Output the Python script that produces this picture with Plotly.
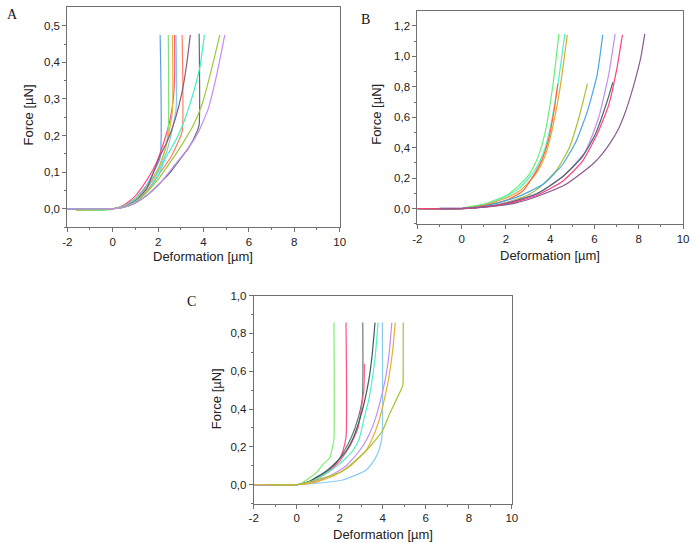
import plotly.graph_objects as go

# ---------------- Panel A data (Deformation [µm], Force [µN]) ----------------
a_blue_x = [-2, 0, 0.5, 1.0, 1.5, 1.8, 2.09, 2.09]
a_blue_y = [0, 0, 0.008, 0.028, 0.064, 0.1, 0.14, 0.475]
a_pink_x = [-2, 0, 0.5, 1.0, 1.5, 1.9, 2.27, 2.51, 2.66, 2.73, 2.73]
a_pink_y = [0, 0, 0.01, 0.035, 0.078, 0.122, 0.185, 0.239, 0.293, 0.365, 0.475]
a_green_x = [-1.6, -0.3, 0, 0.5, 1.0, 1.5, 2.0, 2.3, 2.45, 2.45]
a_green_y = [-0.004, -0.004, 0, 0.007, 0.027, 0.06, 0.11, 0.16, 0.22, 0.475]
a_gold_x = [-1.6, 0, 0.5, 1.0, 1.5, 2.0, 2.35, 2.63, 2.63]
a_gold_y = [-0.003, 0, 0.006, 0.024, 0.058, 0.105, 0.17, 0.266, 0.475]
a_sky_x = [-2, 0, 0.5, 1.0, 1.5, 2.0, 2.4, 2.79, 2.79]
a_sky_y = [0, 0, 0.006, 0.024, 0.056, 0.1, 0.16, 0.27, 0.475]
a_salmon_x = [-2, 0, 0.5, 1.0, 1.5, 2.05, 2.55, 2.84, 3.06, 3.06]
a_salmon_y = [0, 0, 0.005, 0.02, 0.048, 0.095, 0.14, 0.176, 0.21, 0.475]
a_mauve_x = [-2, 0, 0.5, 1.0, 1.5, 2.05, 2.41, 2.77, 3.06, 3.25, 3.42]
a_mauve_y = [0, 0, 0.005, 0.022, 0.055, 0.14, 0.185, 0.248, 0.32, 0.39, 0.475]
a_gray_x = [-2, 0, 0.5, 1.0, 1.5, 2.05, 2.48, 2.92, 3.35, 3.71, 3.81, 3.81]
a_gray_y = [0, 0, 0.004, 0.016, 0.036, 0.068, 0.095, 0.131, 0.167, 0.21, 0.23, 0.478]
a_aqua_x = [-2, 0, 0.5, 1.0, 1.5, 2.0, 2.34, 2.84, 3.2, 3.57, 3.85, 4.04]
a_aqua_y = [0, 0, 0.005, 0.02, 0.045, 0.09, 0.14, 0.194, 0.248, 0.32, 0.39, 0.475]
a_ygreen_x = [-1.6, 0, 0.5, 1.0, 1.5, 2.0, 2.48, 3.06, 3.57, 3.93, 4.29, 4.72]
a_ygreen_y = [-0.004, 0, 0.004, 0.018, 0.045, 0.08, 0.122, 0.176, 0.23, 0.284, 0.365, 0.475]
a_violet_x = [-2, 0, 0.5, 1.0, 1.5, 2.0, 2.77, 3.35, 3.78, 4.22, 4.58, 4.94]
a_violet_y = [0, 0, 0.004, 0.016, 0.036, 0.063, 0.122, 0.167, 0.21, 0.275, 0.365, 0.475]

# ---------------- Panel B data ----------------
b_green_x = [-2, 0, 0.27, 1.0, 1.45, 2.0, 2.49, 3.0, 3.23, 3.5, 3.75, 4.12, 4.39]
b_green_y = [0, 0, 0.011, 0.03, 0.054, 0.085, 0.14, 0.215, 0.27, 0.36, 0.487, 0.81, 1.147]
b_aqua_x = [-2, 0, 1.0, 2.0, 2.64, 3.0, 3.38, 3.7, 3.97, 4.34, 4.66]
b_aqua_y = [0, 0, 0.025, 0.08, 0.14, 0.195, 0.27, 0.37, 0.51, 0.81, 1.147]
b_gold_x = [-2, 0, 1.0, 2.0, 2.64, 3.0, 3.45, 3.75, 4.04, 4.44, 4.77]
b_gold_y = [0, 0, 0.022, 0.07, 0.12, 0.17, 0.25, 0.34, 0.49, 0.79, 1.14]
b_tomato_x = [-2, 0, 1.0, 1.75, 2.3, 2.79, 3.38, 3.65, 3.9, 4.19, 4.34]
b_tomato_y = [0, 0, 0.02, 0.043, 0.075, 0.12, 0.25, 0.33, 0.44, 0.66, 0.82]
b_ygreen_x = [-2, 0, 1.0, 2.0, 3.0, 3.52, 4.27, 4.86, 5.3, 5.68]
b_ygreen_y = [0, 0, 0.012, 0.04, 0.09, 0.14, 0.25, 0.4, 0.6, 0.82]
b_blue_x = [-2, 0, 1.0, 2.49, 3.68, 4.56, 5.16, 5.68, 6.12, 6.37]
b_blue_y = [0, 0, 0.015, 0.076, 0.16, 0.29, 0.44, 0.64, 0.88, 1.14]
b_violet_x = [-1, 0, 1.0, 2.0, 3.0, 3.68, 4.71, 5.6, 6.19, 6.64, 6.93]
b_violet_y = [0.003, 0.003, 0.012, 0.038, 0.08, 0.12, 0.23, 0.38, 0.6, 0.88, 1.147]
b_slate_x = [-2, 0, 1.0, 2.0, 3.38, 4.56, 5.45, 6.04, 6.56, 6.83]
b_slate_y = [0, 0, 0.012, 0.035, 0.097, 0.21, 0.34, 0.49, 0.70, 0.83]
b_pink_x = [-2, 0, 1.0, 2.0, 3.38, 4.56, 5.45, 6.12, 6.64, 7.01, 7.26]
b_pink_y = [0, 0, 0.01, 0.03, 0.087, 0.18, 0.31, 0.49, 0.68, 0.92, 1.14]
b_purple_x = [-1, 0, 1.0, 1.75, 2.5, 3.52, 4.71, 5.9, 6.35, 6.79, 7.1, 7.38, 7.65, 7.9, 8.1, 8.27]
b_purple_y = [0.003, 0.003, 0.01, 0.021, 0.04, 0.087, 0.16, 0.29, 0.36, 0.45, 0.53, 0.63, 0.75, 0.88, 1.0, 1.147]

# ---------------- Panel C data ----------------
c_green_x = [-2, 0, 0.16, 0.62, 0.93, 1.22, 1.54, 1.68, 1.73, 1.73]
c_green_y = [0, 0, 0.004, 0.038, 0.065, 0.108, 0.143, 0.21, 0.24, 0.857]
c_pink_x = [-2, 0, 0.5, 0.92, 1.3, 1.68, 2.0, 2.14, 2.29, 2.29]
c_pink_y = [0, 0, 0.012, 0.03, 0.055, 0.09, 0.14, 0.177, 0.25, 0.857]
c_gray_x = [-2, 0, 0.5, 1.0, 1.5, 2.0, 2.5, 2.85, 3.05, 3.07]
c_gray_y = [0, 0, 0.012, 0.04, 0.08, 0.14, 0.24, 0.35, 0.46, 0.857]
c_pink2_x = [-2, 0, 0.5, 1.0, 1.5, 2.0, 2.5, 2.85, 3.0, 3.12, 3.15]
c_pink2_y = [0, 0, 0.01, 0.035, 0.07, 0.125, 0.21, 0.3, 0.4, 0.5, 0.64]
c_slate_x = [-2, 0, 0.62, 1.38, 1.8, 2.29, 2.6, 2.9, 3.15, 3.36, 3.5, 3.64]
c_slate_y = [0, 0, 0.02, 0.073, 0.115, 0.177, 0.24, 0.334, 0.44, 0.56, 0.68, 0.857]
c_aqua_x = [-2, 0, 0.7, 1.5, 2.0, 2.59, 2.9, 3.13, 3.35, 3.51, 3.65, 3.78]
c_aqua_y = [0, 0, 0.018, 0.07, 0.11, 0.177, 0.24, 0.351, 0.45, 0.56, 0.68, 0.857]
c_sky_x = [-2, 0, 0.93, 2.14, 3.2, 3.6, 3.81, 3.93, 3.98, 3.98]
c_sky_y = [0, 0, 0.008, 0.025, 0.075, 0.13, 0.177, 0.23, 0.28, 0.857]
c_violet_x = [-2, 0, 0.8, 1.6, 2.3, 2.9, 3.3, 3.66, 3.9, 4.12, 4.3, 4.42]
c_violet_y = [0, 0, 0.015, 0.05, 0.1, 0.177, 0.25, 0.351, 0.45, 0.56, 0.7, 0.857]
c_gold_x = [-2, 0, 0.8, 1.68, 2.5, 3.2, 3.5, 3.81, 4.05, 4.27, 4.45, 4.58]
c_gold_y = [0, 0, 0.012, 0.045, 0.1, 0.177, 0.24, 0.334, 0.44, 0.56, 0.7, 0.857]
c_ygreen_x = [-1.3, 0, 1.07, 2.14, 3.2, 3.96, 4.3, 4.73, 4.93, 4.95, 4.95]
c_ygreen_y = [0, 0, 0.03, 0.073, 0.177, 0.28, 0.37, 0.473, 0.525, 0.6, 0.857]

# ---------------- Tick labels ----------------
x_ticks = [-2, 0, 2, 4, 6, 8, 10]
x_tick_labels = ["-2", "0", "2", "4", "6", "8", "10"]
x_minor = [-1, 1, 3, 5, 7, 9]
a_y_ticks = [0.0, 0.1, 0.2, 0.3, 0.4, 0.5]
a_y_tick_labels = ["0,0", "0,1", "0,2", "0,3", "0,4", "0,5"]
a_y_minor = [-0.05, 0.05, 0.15, 0.25, 0.35, 0.45]
b_y_ticks = [0.0, 0.2, 0.4, 0.6, 0.8, 1.0, 1.2]
b_y_tick_labels = ["0,0", "0,2", "0,4", "0,6", "0,8", "1,0", "1,2"]
b_y_minor = [-0.1, 0.1, 0.3, 0.5, 0.7, 0.9, 1.1]
c_y_ticks = [0.0, 0.2, 0.4, 0.6, 0.8, 1.0]
c_y_tick_labels = ["0,0", "0,2", "0,4", "0,6", "0,8", "1,0"]
c_y_minor = [-0.1, 0.1, 0.3, 0.5, 0.7, 0.9]

panel_a = [
    (a_blue_x, a_blue_y, "#5b9fe0"), (a_pink_x, a_pink_y, "#ff4f8b"),
    (a_green_x, a_green_y, "#7ee07e"), (a_gold_x, a_gold_y, "#e6b428"),
    (a_sky_x, a_sky_y, "#80c8f0"), (a_salmon_x, a_salmon_y, "#ff7f5f"),
    (a_mauve_x, a_mauve_y, "#8c5a7a"), (a_gray_x, a_gray_y, "#5c6e6e"),
    (a_aqua_x, a_aqua_y, "#40f0c0"), (a_ygreen_x, a_ygreen_y, "#9dc83a"),
    (a_violet_x, a_violet_y, "#c58cf0"),
]
panel_b = [
    (b_green_x, b_green_y, "#66ee77"), (b_aqua_x, b_aqua_y, "#50f0c8"),
    (b_gold_x, b_gold_y, "#e8a830"), (b_tomato_x, b_tomato_y, "#ff6040"),
    (b_ygreen_x, b_ygreen_y, "#a8c030"), (b_blue_x, b_blue_y, "#4aa8e0"),
    (b_violet_x, b_violet_y, "#c090f0"), (b_slate_x, b_slate_y, "#4a6a6a"),
    (b_pink_x, b_pink_y, "#ff4080"), (b_purple_x, b_purple_y, "#8a5a90"),
]
panel_c = [
    (c_green_x, c_green_y, "#80ee70"), (c_pink_x, c_pink_y, "#ff5080"),
    (c_gray_x, c_gray_y, "#6a7a7a"), (c_pink2_x, c_pink2_y, "#ff6090"),
    (c_slate_x, c_slate_y, "#3f5f5f"), (c_aqua_x, c_aqua_y, "#50f0c8"),
    (c_sky_x, c_sky_y, "#88ccf0"), (c_violet_x, c_violet_y, "#c090f0"),
    (c_gold_x, c_gold_y, "#e8b030"), (c_ygreen_x, c_ygreen_y, "#a8c030"),
]

W, H = 696, 543
fig = go.Figure()

for idx, panel in enumerate([panel_a, panel_b, panel_c]):
    ax = "" if idx == 0 else str(idx + 1)
    for xs, ys, col in panel:
        fig.add_trace(go.Scatter(x=xs, y=ys, mode="lines", xaxis="x" + ax, yaxis="y" + ax,
                                 line=dict(color=col, width=1.2, shape="spline", smoothing=0.5),
                                 showlegend=False, hoverinfo="skip"))

AXCOL = "#707070"
TICKFONT = dict(family="Liberation Sans, Arial", size=11.5, color="#222222")


def xaxis(domain, anchor):
    return dict(domain=domain, anchor=anchor, range=[-2, 10], showline=True, linecolor=AXCOL,
                linewidth=1, mirror=True, ticks="outside", ticklen=4, tickcolor=AXCOL,
                tickmode="array", tickvals=x_ticks, ticktext=x_tick_labels, tickfont=TICKFONT,
                showgrid=False, zeroline=False,
                minor=dict(tickmode="array", tickvals=x_minor, ticks="outside", ticklen=2,
                           tickcolor=AXCOL, showgrid=False))


def yaxis(domain, anchor, rng, tv, tt, mv):
    return dict(domain=domain, anchor=anchor, range=rng, showline=True, linecolor=AXCOL,
                linewidth=1, mirror=True, ticks="outside", ticklen=4, tickcolor=AXCOL,
                tickmode="array", tickvals=tv, ticktext=tt, tickfont=TICKFONT,
                showgrid=False, zeroline=False,
                minor=dict(tickmode="array", tickvals=mv, ticks="outside", ticklen=2,
                           tickcolor=AXCOL, showgrid=False))


def px_x(p):
    return p / W


def px_y(p):
    return 1 - p / H


fig.update_layout(
    width=W, height=H, margin=dict(l=0, r=0, t=0, b=0),
    paper_bgcolor="white", plot_bgcolor="white",
    xaxis=xaxis([px_x(63.3), px_x(340)], "y"),
    yaxis=yaxis([px_y(223.5), px_y(1.5)], "x", [-0.05, 0.55], a_y_ticks, a_y_tick_labels, a_y_minor),
    xaxis2=xaxis([px_x(419), px_x(689)], "y2"),
    yaxis2=yaxis([px_y(220.4), px_y(4.6)], "x2", [-0.1, 1.3], b_y_ticks, b_y_tick_labels, b_y_minor),
    xaxis3=xaxis([px_x(252.7), px_x(515)], "y3"),
    yaxis3=yaxis([px_y(503.2), px_y(292.8)], "x3", [-0.1, 1.0], c_y_ticks, c_y_tick_labels, c_y_minor),
)

TITLEFONT = dict(family="Liberation Sans, Arial", size=13, color="#222222")
LETTERFONT = dict(family="Liberation Serif, Times New Roman", size=14, color="#111111")
ann = []
for (xc, yc) in [(201, 253.5), (554, 252.5), (384, 534)]:
    ann.append(dict(text="Deformation [µm]", x=px_x(xc), y=px_y(yc), xref="paper", yref="paper",
                    showarrow=False, font=TITLEFONT, xanchor="center", yanchor="middle"))
for (xc, yc) in [(24, 110), (378, 110), (215, 397)]:
    ann.append(dict(text="Force [µN]", x=px_x(xc), y=px_y(yc), xref="paper", yref="paper",
                    showarrow=False, font=TITLEFONT, textangle=-90, xanchor="center", yanchor="middle"))
for (lbl, xc, yc) in [("A", 8, 9), ("B", 366, 14), ("C", 189, 299)]:
    ann.append(dict(text=lbl, x=px_x(xc), y=px_y(yc), xref="paper", yref="paper",
                    showarrow=False, font=LETTERFONT, xanchor="center", yanchor="middle"))
fig.update_layout(annotations=ann)

fig.write_html("out.html", config={"displayModeBar": False},
               post_script="document.body.style.margin='0';document.body.style.overflow='hidden';")
